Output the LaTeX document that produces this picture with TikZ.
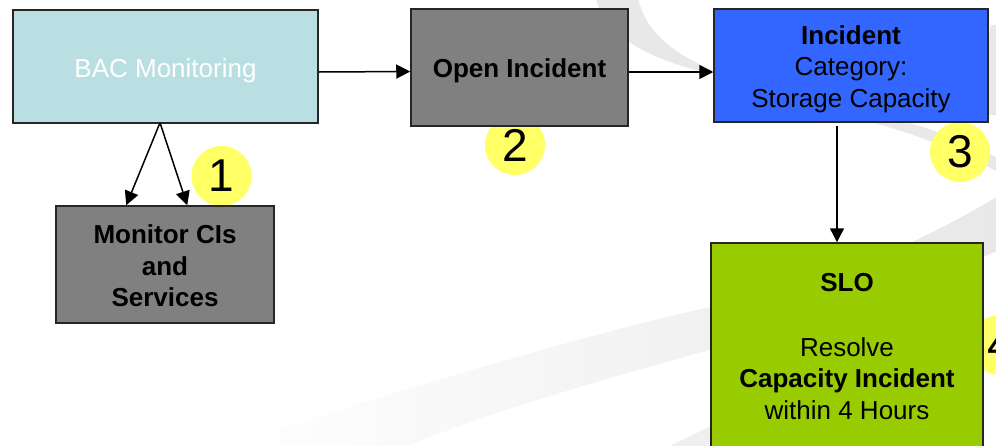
\documentclass[tikz,border=0pt]{standalone}
\usepackage{fontspec}
\setmainfont{Liberation Sans}
\usetikzlibrary{arrows.meta,calc}
\definecolor{bacfill}{HTML}{B9DFE2}
\definecolor{boxgray}{HTML}{808080}
\definecolor{incblue}{HTML}{3366FF}
\definecolor{slogreen}{HTML}{99CC00}
\definecolor{badgefill}{HTML}{FFFF66}
\definecolor{swoosh}{HTML}{E8E8E8}
% centred lines, set a little lower than the box centre
\newcommand{\boxlines}[2]{\raisebox{-#1}[\height][\depth]{\begin{tabular}{@{}c@{}}#2\end{tabular}}}
\begin{document}
\begin{tikzpicture}[x=1pt,y=-1pt,
  box/.style={draw=black!85, line width=1.5pt, inner sep=0pt,
    font=\fontsize{26}{31.5}\selectfont},
  arr/.style={line width=1.5pt, -{Triangle[length=14pt,width=14pt]}},
  badge/.style={circle, fill=badgefill, minimum size=60pt, inner sep=0pt,
    font=\fontsize{46}{46}\selectfont}]
\useasboundingbox (0,0) rectangle (996,445);
\clip (0,0) rectangle (996,445);
\fill[white] (0,0) rectangle (996,445);

% faint background swooshes
\shade[left color=white, right color=swoosh]
  (230,445) .. controls (400,390) and (600,330) .. (720,305)
  .. controls (850,280) and (950,225) .. (1000,195)
  -- (1000,250) .. controls (900,290) and (800,325) .. (720,347)
  .. controls (600,380) and (480,415) .. (410,445) -- cycle;
\fill[swoosh!70]
  (668,447) -- (715,424) -- (715,447) -- cycle;
\fill[swoosh]
  (596,-2) .. controls (602,30) and (640,58) .. (712,74)
  -- (712,70) .. controls (670,52) and (645,30) .. (638,-2) -- cycle;
\fill[swoosh]
  (870,122) .. controls (920,135) and (960,152) .. (998,172)
  -- (998,158) .. controls (960,140) and (930,128) .. (905,122) -- cycle;
\fill[swoosh]
  (991,25) .. controls (985,55) and (986,90) .. (989,115)
  -- (998,115) -- (998,25) -- cycle;

% numbered badges (sitting behind the boxes)
\node[badge] (n1) at (221.5,176) {1};
\node[badge] (n2) at (515,145) {2};
\node[badge] (n3) at (960,152) {3};
\node[badge] (n4) at (1000,345) {4};

% process boxes
\node[box, fill=bacfill, text=white, minimum width=305pt, minimum height=113pt]
  (bac) at (165.5,66.5) {\boxlines{4.5pt}{BAC Monitoring}};
\node[box, fill=boxgray, minimum width=218pt, minimum height=117pt]
  (mon) at (165,264.5) {\boxlines{4.5pt}{\textbf{Monitor CIs}\\\textbf{and}\\\textbf{Services}}};
\node[box, fill=boxgray, minimum width=217pt, minimum height=117pt]
  (open) at (519.5,67.5) {\boxlines{4pt}{\textbf{Open Incident}}};
\node[box, fill=incblue, minimum width=274pt, minimum height=113pt]
  (inc) at (851,65.5) {\boxlines{4pt}{\textbf{Incident}\\Category:\\Storage Capacity}};
\node[box, fill=slogreen, minimum width=272pt, minimum height=206pt]
  (slo) at (847,346) {\boxlines{3pt}{\textbf{SLO}\\[33.5pt]Resolve\\\textbf{Capacity Incident}\\within 4 Hours}};

% connectors
\draw[arr] ($(bac.south)+(-5.5,-1)$) coordinate (bs) -- ($(mon.north west)+(71,0)$);
\draw[arr] (bs) -- ($(mon.north west)+(132,0)$);
\draw[arr] ($(bac.east)+(0,5.5)$) -- ($(open.west)+(0,4)$);
\draw[arr] ($(open.east)+(0,4.5)$) -- ($(inc.west)+(0,6.5)$);
\draw[arr] ($(inc.south)+(-14,3)$) coordinate (is) -- (is |- slo.north);
\end{tikzpicture}
\end{document}
